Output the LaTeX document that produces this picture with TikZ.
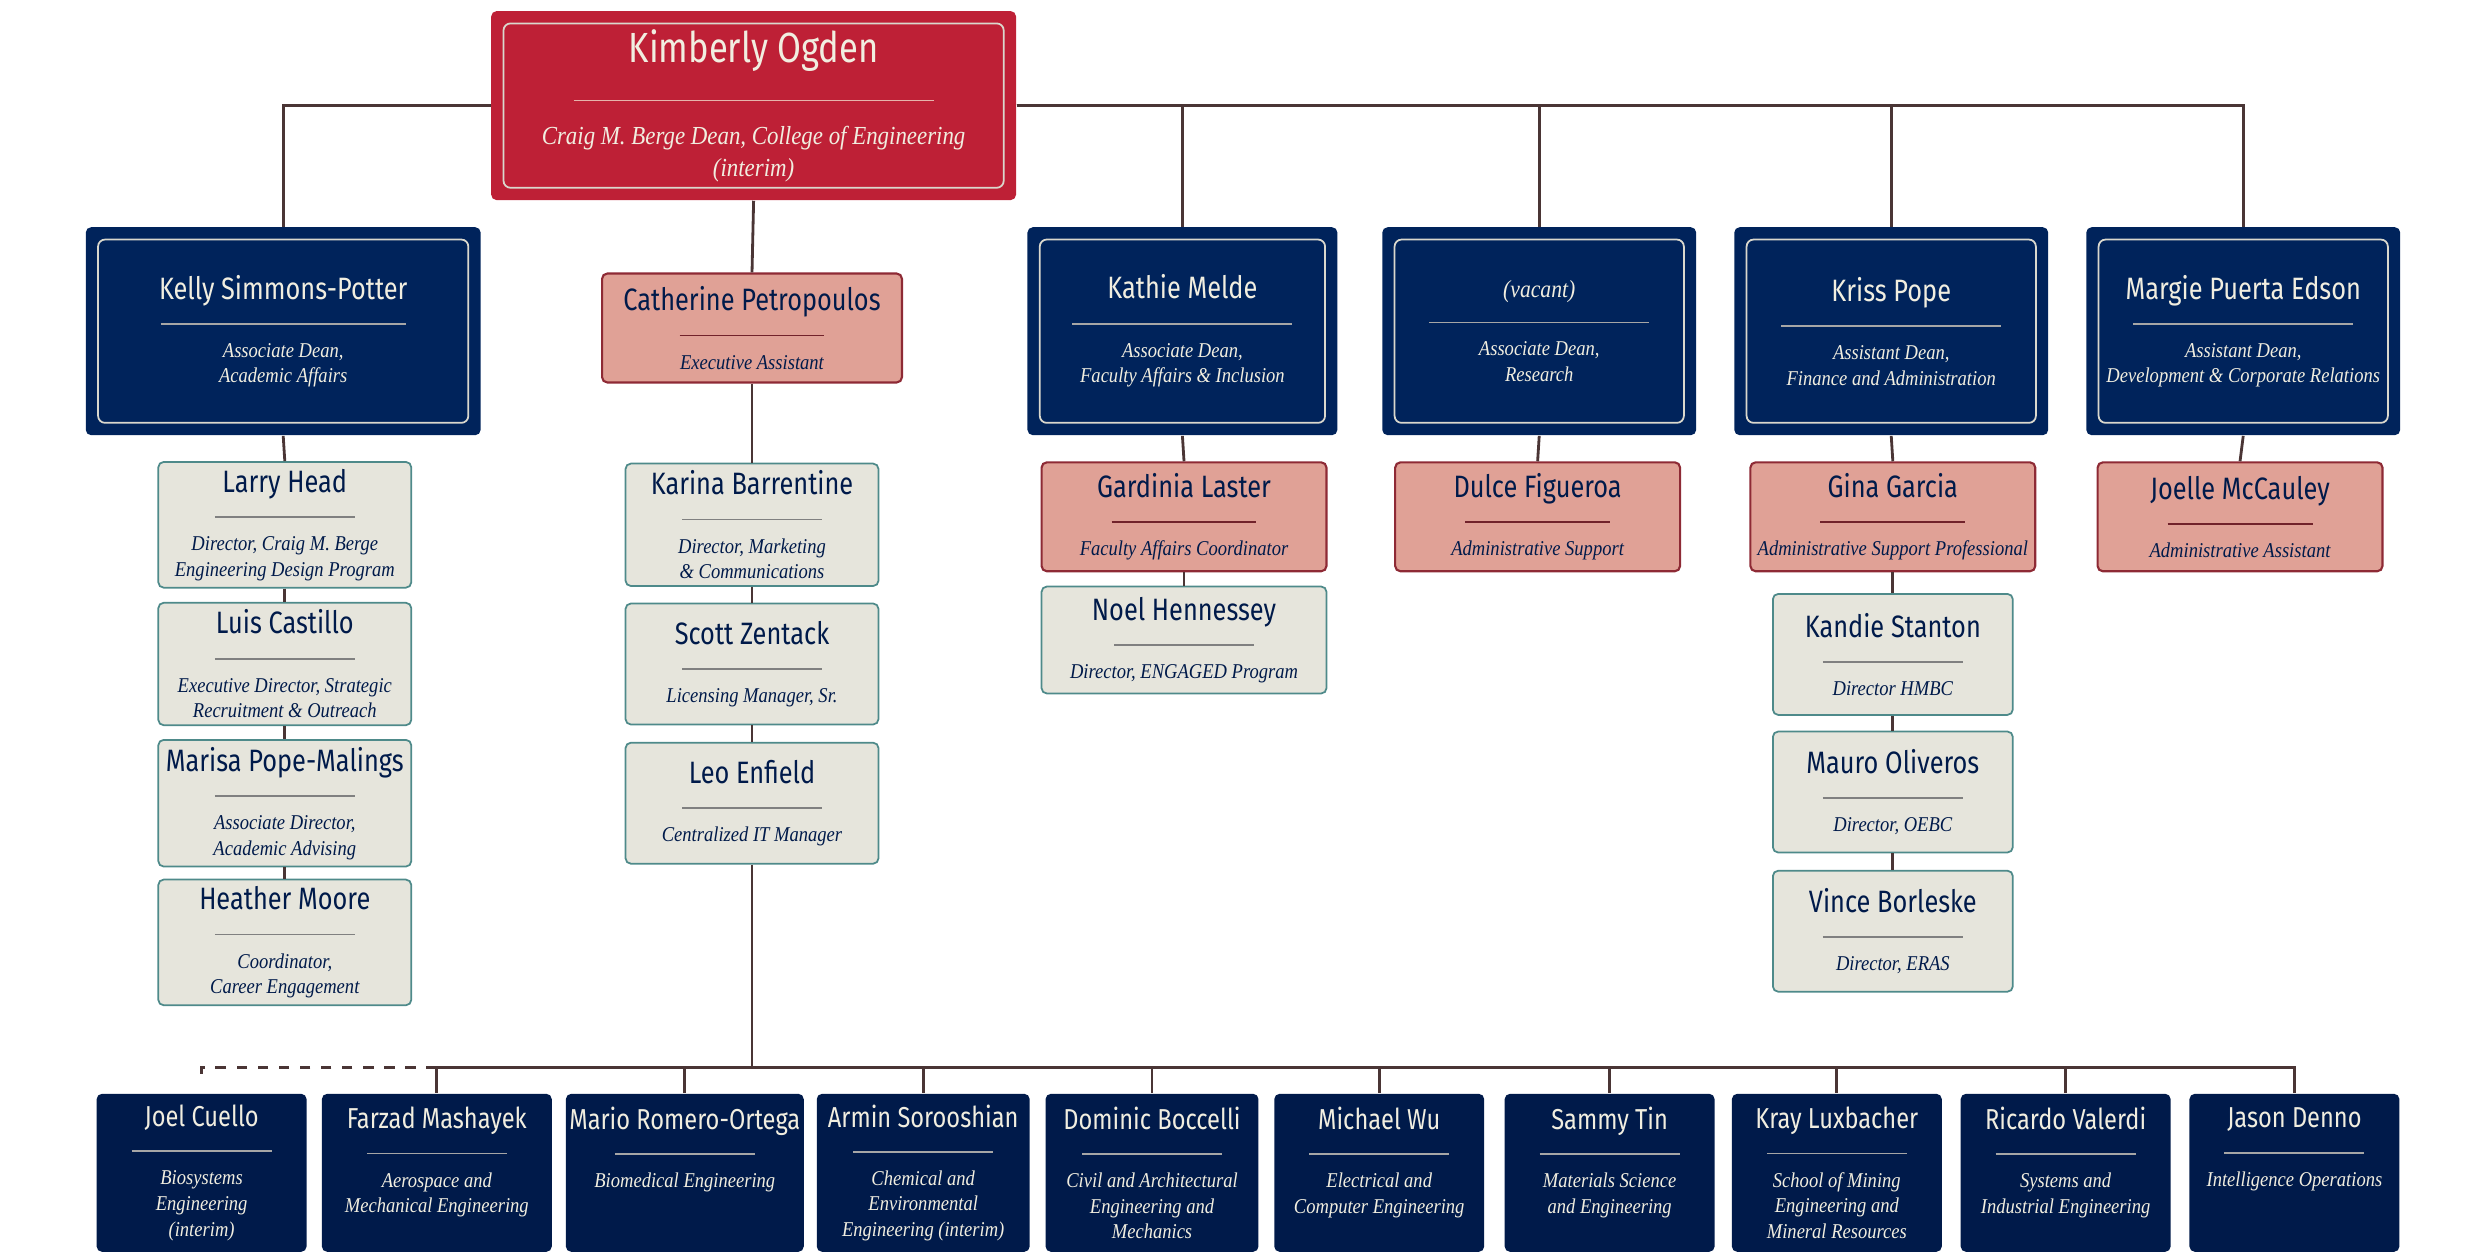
\documentclass[tikz,border=0pt]{standalone}
\usepackage{fontspec}
\setmainfont{Liberation Serif}
\newfontfamily\namefam[FakeStretch=0.82]{Fira Sans}
\newfontfamily\titfam[FakeStretch=0.88]{Liberation Serif}
\definecolor{deanred}{HTML}{BE2036}
\definecolor{navy}{HTML}{00235B}
\definecolor{deepnavy}{HTML}{001A4A}
\definecolor{rose}{HTML}{E0A196}
\definecolor{roseline}{HTML}{8E2A35}
\definecolor{stone}{HTML}{E6E5DC}
\definecolor{teal}{HTML}{4E8A8A}
\definecolor{cream}{HTML}{F1EEE0}
\definecolor{wire}{HTML}{4A3535}
\newcommand\nm[1]{{\namefam\fontsize{8.8}{9}\selectfont #1}}
\newcommand\dn[1]{{\namefam\fontsize{8.2}{9}\selectfont #1}}
\newcommand\tl[1]{{\titfam\itshape #1}}
\newcommand\sep[2]{\\[1.5pt]\textcolor{#1}{\rule[1.5pt]{#2}{0.5pt}}\\[0.5pt]}
\tikzset{
  box/.style={rectangle, rounded corners=1.5pt, align=center, inner sep=2pt,
    font=\fontsize{6}{7.3}\selectfont},
  dean/.style={box, fill=deanred, text=cream, minimum width=5.25cm, minimum height=1.89cm},
  assoc/.style={box, fill=navy, text=cream, minimum height=2.08cm},
  helper/.style={box, fill=rose, draw=roseline, line width=0.6pt, text=deepnavy, minimum width=2.85cm, minimum height=1.09cm},
  staff/.style={box, fill=stone, draw=teal, line width=0.5pt, text=deepnavy, minimum width=2.53cm, minimum height=1.21cm},
  dept/.style={box, fill=deepnavy, text=cream, minimum height=1.58cm, minimum width=2.1cm, inner sep=1pt},
  wire/.style={draw=wire, line width=0.8pt}
}
\begin{document}
\begin{tikzpicture}[x=0.016cm, y=-0.016cm]
  \useasboundingbox (0,0) rectangle (1550.6,783.1);

  % Decano
  \node[dean, font=\fontsize{7.4}{9.2}\selectfont] (kimberly) at (471,66) {{\namefam\fontsize{12}{13}\selectfont Kimberly Ogden}\\[4pt]\textcolor{rose!80!white}{\rule[2pt]{3.6cm}{0.5pt}}\\[1pt]\tl{Craig M. Berge Dean, College of Engineering}\\\tl{(interim)}};

  % Decanos asociados
  \node[assoc, minimum width=3.95cm] (kelly) at (177,207) {\nm{Kelly Simmons-Potter}\sep{gray!70}{2.45cm}\tl{Associate Dean,}\\\tl{Academic Affairs}};
  \node[assoc, minimum width=3.1cm] (kathie) at (739,207) {\nm{Kathie Melde}\sep{gray!70}{2.2cm}\tl{Associate Dean,}\\\tl{Faculty Affairs \& Inclusion}};
  \node[assoc, minimum width=3.14cm] (vacant) at (962,207) {{\titfam\itshape\fontsize{7}{8}\selectfont(vacant)}\sep{gray!70}{2.2cm}\tl{Associate Dean,}\\\tl{Research}};
  \node[assoc, minimum width=3.14cm] (kriss) at (1182,207) {\nm{Kriss Pope}\sep{gray!70}{2.2cm}\tl{Assistant Dean,}\\\tl{Finance and Administration}};
  \node[assoc, minimum width=3.14cm] (margie) at (1402,207) {\nm{Margie Puerta Edson}\sep{gray!70}{2.2cm}\tl{Assistant Dean,}\\\tl{Development \& Corporate Relations}};

  % Marcos interiores
  \foreach \n in {kimberly,kelly,kathie,vacant,kriss,margie}
    \draw[cream!80!gray, line width=0.5pt, rounded corners=2pt]
      ([shift={(0.13cm,0.13cm)}]\n.south west) rectangle ([shift={(-0.13cm,-0.13cm)}]\n.north east);

  % Asistentes
  \node[helper, minimum width=3.0cm] (catherine) at (470,205) {\nm{Catherine Petropoulos}\sep{roseline!80!black}{1.45cm}\tl{Executive Assistant}};
  \node[helper] (gardinia) at (740,323) {\nm{Gardinia Laster}\sep{roseline!80!black}{1.45cm}\tl{Faculty Affairs Coordinator}};
  \node[helper] (dulce) at (961,323) {\nm{Dulce Figueroa}\sep{roseline!80!black}{1.45cm}\tl{Administrative Support}};
  \node[helper] (gina) at (1183,323) {\nm{Gina Garcia}\sep{roseline!80!black}{1.45cm}\tl{Administrative Support Professional}};
  \node[helper] (joelle) at (1400,323) {\nm{Joelle McCauley}\sep{roseline!80!black}{1.45cm}\tl{Administrative Assistant}};

  % Personal
  \node[staff] (larry) at (178,328) {\nm{Larry Head}\sep{gray}{1.4cm}\tl{Director, Craig M. Berge}\\\tl{Engineering Design Program}};
  \node[staff] (luis) at (178,415) {\nm{Luis Castillo}\sep{gray}{1.4cm}\tl{Executive Director, Strategic}\\\tl{Recruitment \& Outreach}};
  \node[staff] (marisa) at (178,502) {\nm{Marisa Pope-Malings}\sep{gray}{1.4cm}\tl{Associate Director,}\\\tl{Academic Advising}};
  \node[staff] (heather) at (178,589) {\nm{Heather Moore}\sep{gray}{1.4cm}\tl{Coordinator,}\\\tl{Career Engagement}};
  \node[staff] (karina) at (470,328) {\nm{Karina Barrentine}\sep{gray}{1.4cm}\tl{Director, Marketing}\\\tl{\& Communications}};
  \node[staff] (scott) at (470,415) {\nm{Scott Zentack}\sep{gray}{1.4cm}\tl{Licensing Manager, Sr.}};
  \node[staff] (leo) at (470,502) {\nm{Leo Enfield}\sep{gray}{1.4cm}\tl{Centralized IT Manager}};
  \node[staff, minimum width=2.85cm, minimum height=1.07cm] (noel) at (740,400) {\nm{Noel Hennessey}\sep{gray}{1.4cm}\tl{Director, ENGAGED Program}};
  \node[staff, minimum width=2.4cm] (kandie) at (1183,409) {\nm{Kandie Stanton}\sep{gray}{1.4cm}\tl{Director HMBC}};
  \node[staff, minimum width=2.4cm] (mauro) at (1183,495) {\nm{Mauro Oliveros}\sep{gray}{1.4cm}\tl{Director, OEBC}};
  \node[staff, minimum width=2.4cm] (vince) at (1183,582) {\nm{Vince Borleske}\sep{gray}{1.4cm}\tl{Director, ERAS}};

  % Departamentos
  \node[dept] (joel) at (126,733) {\dn{Joel Cuello}\sep{gray!70}{1.4cm}\tl{Biosystems}\\\tl{Engineering}\\\tl{(interim)}};
  \node[dept, minimum width=2.3cm] (farzad) at (273,733) {\dn{Farzad Mashayek}\sep{gray!70}{1.4cm}\tl{Aerospace and}\\\tl{Mechanical Engineering}\\~};
  \node[dept, minimum width=2.34cm] (mario) at (428,733) {\dn{Mario Romero-Ortega}\sep{gray!70}{1.4cm}\tl{Biomedical Engineering}\\~\\~};
  \node[dept, minimum width=2.13cm] (armin) at (577,733) {\dn{Armin Sorooshian}\sep{gray!70}{1.4cm}\tl{Chemical and}\\\tl{Environmental}\\\tl{Engineering (interim)}};
  \node[dept, minimum width=2.13cm] (dominic) at (720,733) {\dn{Dominic Boccelli}\sep{gray!70}{1.4cm}\tl{Civil and Architectural}\\\tl{Engineering and}\\\tl{Mechanics}};
  \node[dept] (michael) at (862,733) {\dn{Michael Wu}\sep{gray!70}{1.4cm}\tl{Electrical and}\\\tl{Computer Engineering}\\~};
  \node[dept] (sammy) at (1006,733) {\dn{Sammy Tin}\sep{gray!70}{1.4cm}\tl{Materials Science}\\\tl{and Engineering}\\~};
  \node[dept] (kray) at (1148,733) {\dn{Kray Luxbacher}\sep{gray!70}{1.4cm}\tl{School of Mining}\\\tl{Engineering and}\\\tl{Mineral Resources}};
  \node[dept] (ricardo) at (1291,733) {\dn{Ricardo Valerdi}\sep{gray!70}{1.4cm}\tl{Systems and}\\\tl{Industrial Engineering}\\~};
  \node[dept] (jason) at (1434,733) {\dn{Jason Denno}\sep{gray!70}{1.4cm}\tl{Intelligence Operations}\\~\\~};

  % Conexiones
  \draw[wire] (kimberly.west) -| (kelly.north);
  \foreach \n in {kathie,vacant,kriss,margie}
    \draw[wire] (kimberly.east) -| (\n.north);
  \draw[wire] (kimberly.south) -- (catherine.north);
  \draw[wire] (catherine.south) -- (karina.north);
  \draw[wire] (karina) -- (scott) -- (leo);
  \draw[wire] (kelly.south) -- (larry.north);
  \draw[wire] (larry) -- (luis) -- (marisa) -- (heather);
  \draw[wire] (kathie.south) -- (gardinia.north);
  \draw[wire] (gardinia) -- (noel);
  \draw[wire] (vacant.south) -- (dulce.north);
  \draw[wire] (kriss.south) -- (gina.north);
  \draw[wire] (gina) -- (kandie) -- (mauro) -- (vince);
  \draw[wire] (margie.south) -- (joelle.north);

  \coordinate (bus) at (470,667);
  \coordinate (tick) at (126,676);
  \draw[wire] (leo.south) -- (bus);
  \foreach \n in {farzad,mario,armin,dominic,michael,sammy,kray,ricardo,jason}
    \draw[wire] (bus) -| (\n.north);
  \draw[wire, dashed] (bus -| farzad.north) -| (tick);

\end{tikzpicture}
\end{document}
